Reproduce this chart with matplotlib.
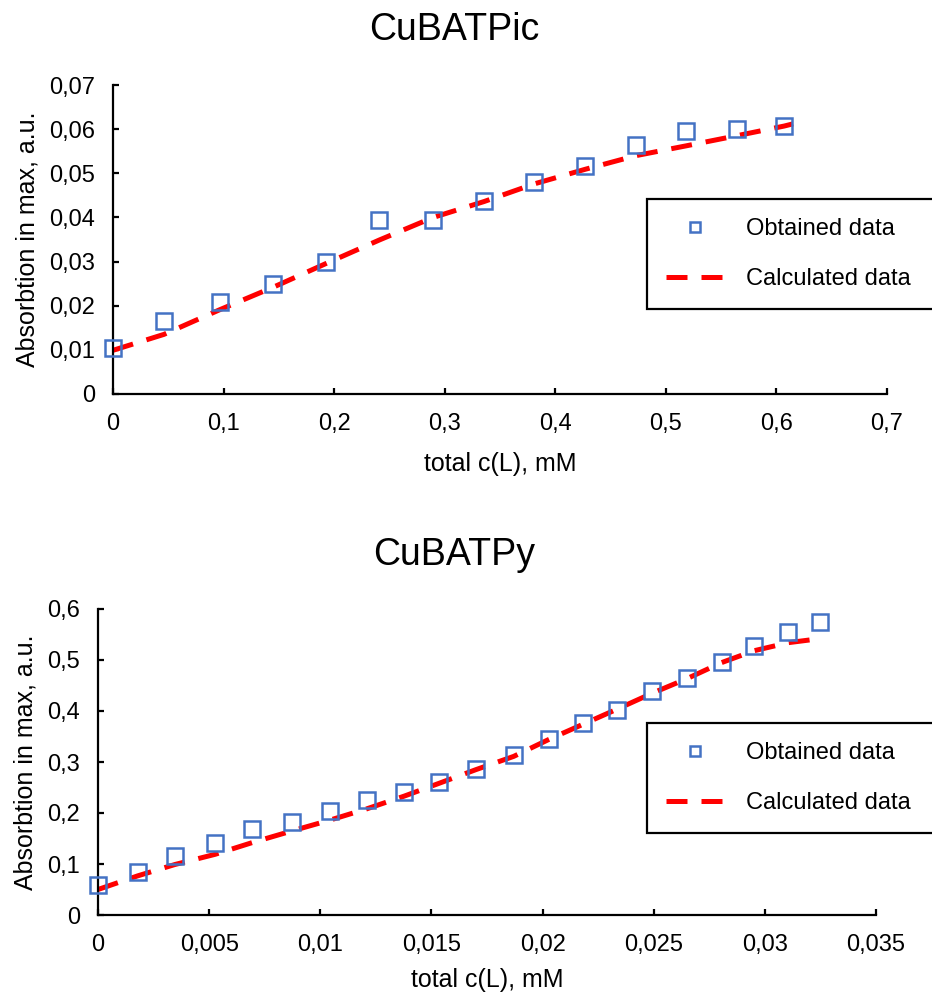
import matplotlib
matplotlib.use("Agg")
import matplotlib.pyplot as plt
from matplotlib.ticker import MultipleLocator, FuncFormatter

plt.rcParams["font.family"] = ["Liberation Sans", "DejaVu Sans"]

# CuBATPic titration
pic_c = [0.0, 0.046, 0.0966, 0.145, 0.193, 0.241, 0.2896, 0.3356, 0.381,
         0.427, 0.473, 0.518, 0.564, 0.607]
pic_obs = [0.0104, 0.0166, 0.0208, 0.0250, 0.0298, 0.0395, 0.0395, 0.0438,
           0.0480, 0.0516, 0.0565, 0.0595, 0.0601, 0.0607]
pic_calc_c = [0.0, 0.046, 0.0966, 0.145, 0.193, 0.241, 0.2896, 0.3356, 0.381,
              0.427, 0.473, 0.518, 0.564, 0.607, 0.615]
pic_calc = [0.0099, 0.0135, 0.0191, 0.0242, 0.0296, 0.0349, 0.0400, 0.0436,
            0.0476, 0.0509, 0.0540, 0.0562, 0.0585, 0.0607, 0.0612]

# CuBATPy titration
py_c = [0.0, 0.00179, 0.00346, 0.00527, 0.00694, 0.00874, 0.01043, 0.01208,
        0.01377, 0.01533, 0.0170, 0.0187, 0.02027, 0.02182, 0.02337, 0.02494,
        0.0265, 0.02806, 0.0295, 0.03106, 0.0325]
py_obs = [0.0586, 0.0846, 0.116, 0.142, 0.168, 0.183, 0.204, 0.225, 0.242,
          0.261, 0.287, 0.314, 0.345, 0.376, 0.402, 0.439, 0.465, 0.496,
          0.527, 0.554, 0.574]
py_calc = [0.050, 0.0768, 0.099, 0.119, 0.142, 0.165, 0.186, 0.208, 0.233,
           0.258, 0.285, 0.311, 0.344, 0.374, 0.404, 0.435, 0.4635, 0.495,
           0.518, 0.534, 0.542]

blue = "#4472C4"
red = "#FF0000"
tick_fs = 17
label_fs = 18
leg_fs = 17

# decimal comma on both axes
comma = FuncFormatter(lambda v, pos: ("%g" % v).replace(".", ","))

fig = plt.figure(figsize=(9.32, 9.94), dpi=100)
W, H = 932, 994

ax1 = fig.add_axes([113 / W, 1 - 394 / H, 774 / W, 309 / H])
ax2 = fig.add_axes([98 / W, 1 - 915 / H, 778 / W, 306 / H])

panels = [
    (ax1, pic_c, pic_obs, pic_calc_c, pic_calc, 0.7, 0.1, 0.07, 0.01,
     "CuBATPic", 30, 199, 12),
    (ax2, py_c, py_obs, py_c, py_calc, 0.035, 0.005, 0.6, 0.1,
     "CuBATPy", 555, 723, 8),
]

for ax, c, obs, cc, calc, xmax, xstep, ymax, ystep, title, ty, ltop, xlpad in panels:
    ax.plot(c, obs, linestyle="none", marker="s", markersize=12,
            markerfacecolor="none", markeredgecolor=blue, markeredgewidth=1.8,
            label="Obtained data", zorder=3, clip_on=False)
    ax.plot(cc, calc, color=red, linewidth=3.6, linestyle=(0, (4.2, 2.8)),
            label="Calculated data", zorder=2)
    ax.set_xlim(0, xmax)
    ax.set_ylim(0, ymax)
    ax.xaxis.set_major_locator(MultipleLocator(xstep))
    ax.yaxis.set_major_locator(MultipleLocator(ystep))
    ax.xaxis.set_major_formatter(comma)
    ax.yaxis.set_major_formatter(comma)
    for s in ("top", "right"):
        ax.spines[s].set_visible(False)
    for s in ("left", "bottom"):
        ax.spines[s].set_linewidth(1.6)
    ax.tick_params(direction="in", length=4, width=1.6, labelsize=tick_fs)
    ax.tick_params(axis="x", pad=14)
    ax.tick_params(axis="y", pad=13)
    ax.set_xlabel("total c(L), mM", fontsize=label_fs, labelpad=xlpad)
    ax.set_ylabel("Absorbtion in max, a.u.", fontsize=label_fs, labelpad=7)
    fig.text(454 / W, 1 - ty / H, title, fontsize=27, ha="center", va="center")

    # legend box runs off the right edge of the figure
    lx = 647 / W
    ly = 1 - ltop / H
    leg = ax.legend(loc="upper left", bbox_to_anchor=(lx, ly - 0.1, 1.04 - lx, 0.1),
                    bbox_transform=fig.transFigure, mode="expand",
                    fontsize=leg_fs, frameon=True, fancybox=False,
                    edgecolor="black", framealpha=1, handlelength=2.5,
                    handletextpad=0.9, labelspacing=1.2, borderpad=0.8,
                    borderaxespad=0, markerscale=0.6)
    leg.get_frame().set_linewidth(1.6)

fig.savefig("out.png", dpi=100)
